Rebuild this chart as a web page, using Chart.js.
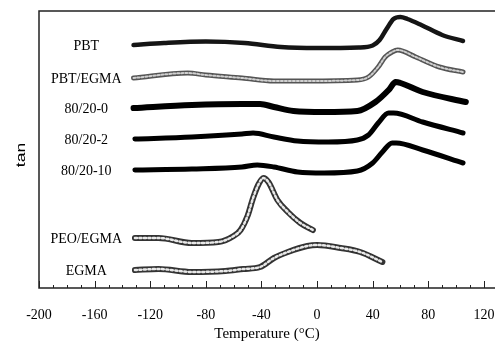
<!DOCTYPE html>
<html>
<head>
<meta charset="utf-8">
<script src="https://cdn.jsdelivr.net/npm/chart.js@4.4.1/dist/chart.umd.min.js"></script>
<style>
  html, body { margin: 0; padding: 0; background: #fff; }
  #wrap { width: 495px; height: 341px; position: relative; }
</style>
</head>
<body>
<div id="wrap"><canvas id="tanChart"></canvas></div>
<script>
// temperature (degC) and tan delta (arbitrary, offset curves)
var pbtT = [-132, -110, -80, -52, -26, 0, 30, 40, 45, 50, 55, 60, 65, 75, 90, 105];
var pbtV = [243, 245, 246.5, 245, 241, 240, 240.5, 242.5, 248, 259, 269, 271, 269, 263, 253, 247];

var pbtEgmaT = [-132, -93, -80, -54, -31, -7, 29, 37, 44, 49, 54, 58, 71, 88, 105];
var pbtEgmaV = [210, 215, 213, 210, 207, 207, 208, 211, 221, 231, 236, 238, 231, 221, 216];

var b0T = [-132, -90, -54, -41, -31, -17, 5, 29, 42, 51.5, 56.6, 60, 76, 107];
var b0V = [180, 183, 184, 184, 181, 177, 176, 177, 186, 198, 206, 205, 196, 186];

var b2T = [-131, -90, -54, -46, -31, -14, 8, 29, 37, 44, 51.5, 55, 76, 105];
var b2V = [149, 151, 154, 155, 151, 147, 146, 148, 153, 165, 175, 175, 166, 155];

var b10T = [-131, -90, -54, -43, -31, -14, 5, 29, 40, 47, 54, 57, 76, 105];
var b10V = [118, 119, 121, 123, 121, 116, 115, 117, 125, 136, 145, 145, 138, 125];

var peoT = [-131, -114, -90, -71, -60, -55, -50, -46, -42, -38.6, -35, -28.5, -21, -12, -3];
var peoV = [50, 50, 45, 46, 52, 58, 72, 90, 104, 110, 106, 88, 76, 65, 58];

var egmaT = [-131, -114, -90, -66, -53, -41, -31, -21, -7, 0, 17, 31, 47];
var egmaV = [18, 19, 16, 17, 19, 21, 30, 36, 42, 43, 40, 36, 26];

var xTicks = [];
for (var t = -200; t <= 120; t += 10) xTicks.push(t);

function pts(xs, ys) {
  return xs.map(function(x, i) { return { x: x, y: ys[i] }; });
}

// order: lower numbers are drawn on top
function lineSet(name, data, color, width, dash, order) {
  return {
    label: name, data: data, borderColor: color, borderWidth: width,
    borderDash: dash || [], pointRadius: 0, cubicInterpolationMode: 'monotone',
    fill: false, borderCapStyle: 'round', order: order
  };
}

var datasets = [
  lineSet('PBT', pts(pbtT, pbtV), '#151515', 4.5, null, 2),
  lineSet('PBT/EGMA', pts(pbtEgmaT, pbtEgmaV), '#555', 5, null, 2),
  lineSet('', pts(pbtEgmaT, pbtEgmaV), '#d0d0d0', 2, [2, 2], 1),
  lineSet('80/20-0', pts(b0T, b0V), '#000', 6, null, 2),
  lineSet('80/20-2', pts(b2T, b2V), '#000', 5, null, 2),
  lineSet('80/20-10', pts(b10T, b10V), '#000', 5, null, 2),
  lineSet('PEO/EGMA', pts(peoT, peoV), '#333', 6, null, 2),
  lineSet('', pts(peoT, peoV), '#e8e8e8', 2.5, [2, 2.5], 1),
  lineSet('EGMA', pts(egmaT, egmaV), '#333', 6, null, 2),
  lineSet('', pts(egmaT, egmaV), '#e8e8e8', 2.5, [2, 2.5], 1)
];

var framePlugin = {
  id: 'frame',
  afterDraw: function(chart) {
    var ctx = chart.ctx, a = chart.chartArea, xs = chart.scales.x, ys = chart.scales.y;
    ctx.save();
    ctx.strokeStyle = '#222';
    ctx.lineWidth = 1.5;
    ctx.beginPath();
    ctx.moveTo(a.right, a.top);
    ctx.lineTo(a.left, a.top);
    ctx.lineTo(a.left, a.bottom);
    ctx.lineTo(a.right, a.bottom);
    ctx.stroke();
    ctx.lineWidth = 1;
    xTicks.forEach(function(v) {
      var px = Math.round(xs.getPixelForValue(v)) + 0.5;
      var len = (v % 40 === 0) ? 7 : 3;
      ctx.beginPath();
      ctx.moveTo(px, a.bottom);
      ctx.lineTo(px, a.bottom - len);
      ctx.stroke();
    });
    // series names
    ctx.fillStyle = '#000';
    ctx.font = '14px "Liberation Serif", "Times New Roman", serif';
    ctx.textAlign = 'center';
    ctx.textBaseline = 'middle';
    chart.data.datasets.forEach(function(ds) {
      if (!ds.label) return;
      ctx.fillText(ds.label, xs.getPixelForValue(-166), ys.getPixelForValue(ds.data[0].y) + 1);
    });
    // y axis title
    ctx.font = '13px "Liberation Sans", Arial, sans-serif';
    ctx.translate(21, 155);
    ctx.rotate(-Math.PI / 2);
    ctx.scale(1.35, 1);
    ctx.fillText('tan', 0, 0);
    ctx.restore();
  }
};

new Chart(document.getElementById('tanChart').getContext('2d'), {
  type: 'line',
  data: { datasets: datasets },
  plugins: [framePlugin],
  options: {
    responsive: true,
    maintainAspectRatio: false,
    animation: false,
    layout: { padding: { left: 39, top: 11, right: 0, bottom: 0 } },
    plugins: { legend: { display: false }, tooltip: { enabled: false } },
    scales: {
      x: {
        type: 'linear', min: -200, max: 128,
        afterBuildTicks: function(scale) {
          scale.ticks = xTicks.map(function(v) { return { value: v }; });
        },
        afterFit: function(scale) {
          scale.height = 53;
          scale.paddingLeft = 0;
          scale.paddingRight = 0;
        },
        grid: { display: false, drawTicks: false },
        border: { display: false },
        ticks: {
          autoSkip: false, maxRotation: 0, padding: 19, color: '#000',
          font: { family: '"Liberation Serif", "Times New Roman", serif', size: 14 },
          callback: function(v) { return v % 40 === 0 ? String(v) : ''; }
        },
        title: {
          display: true, text: 'Temperature (\u00b0C)', color: '#000',
          font: { family: '"Liberation Serif", "Times New Roman", serif', size: 15 },
          padding: { top: 0, bottom: -2 }
        }
      },
      y: { display: false, min: 0, max: 277 }
    }
  }
});
</script>
</body>
</html>
